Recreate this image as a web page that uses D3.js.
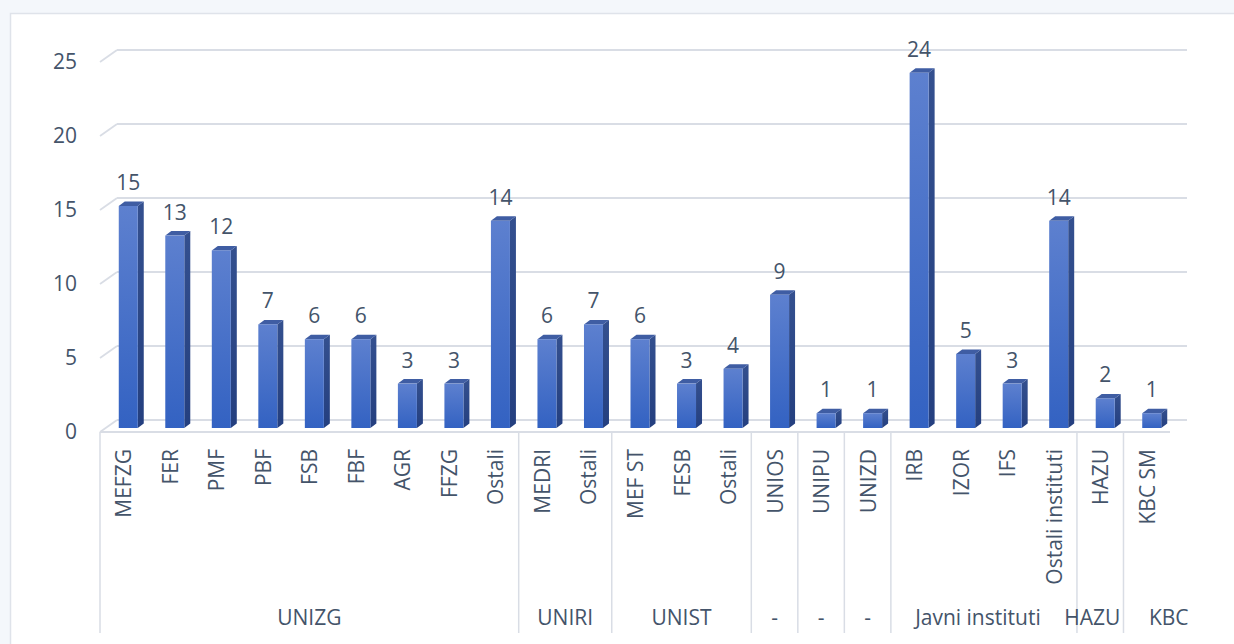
<!DOCTYPE html>
<html>
<head>
<meta charset="utf-8">
<script src="https://cdn.jsdelivr.net/npm/d3@7"></script>
<style>
  body { margin: 0; background: #f4f7fb; }
  svg { display: block; font-family: "Open Sans", sans-serif; }
</style>
</head>
<body>
<div id="chart"></div>
<script>
// data
const categories = ["MEFZG", "FER", "PMF", "PBF", "FSB", "FBF", "AGR", "FFZG", "Ostali",
  "MEDRI", "Ostali", "MEF ST", "FESB", "Ostali", "UNIOS", "UNIPU", "UNIZD",
  "IRB", "IZOR", "IFS", "Ostali instituti", "HAZU", "KBC SM"]
const values = [15, 13, 12, 7, 6, 6, 3, 3, 14, 6, 7, 6, 3, 4, 9, 1, 1, 24, 5, 3, 14, 2, 1]
const groups = ["UNIZG", "UNIRI", "UNIST", "-", "-", "-", "Javni instituti", "HAZU", "KBC"]
const groupSizes = [9, 2, 3, 1, 1, 1, 4, 1, 1]
const yTicks = [0, 5, 10, 15, 20, 25]

const width = 1234
const height = 644
const textColor = "#44546a"
const gridColor = "#d9dde5"
const fontSize = 21

// 3d offsets: back wall and bar depth
const depthX = 17, depthY = -12
const barDX = 6, barDY = -4.5

const svg = d3.select("#chart").append("svg")
  .attr("width", width)
  .attr("height", height)

// white panel
svg.append("rect")
  .attr("x", 10.5).attr("y", 13.5)
  .attr("width", width).attr("height", height)
  .attr("fill", "#ffffff")
  .attr("stroke", "#dfe3ea")
  .attr("stroke-width", 1.5)

const x = d3.scaleBand()
  .domain(d3.range(categories.length))
  .range([100, 1170])

// y at the bar front plane
const yFront = 428
const y = d3.scaleLinear().domain([0, 25]).range([yFront, yFront - 25 * 14.8])
const yBack = v => y(v) - 8          // back wall
const yEdge = v => yBack(v) - depthY // front-left edge

// back wall gridlines + small diagonal ticks on the left
const grid = svg.append("g")
yTicks.forEach(t => {
  grid.append("line")
    .attr("x1", 100 + depthX).attr("x2", 1170 + depthX)
    .attr("y1", yBack(t)).attr("y2", yBack(t))
    .attr("stroke", gridColor).attr("stroke-width", 1.8)
  grid.append("line")
    .attr("x1", 100).attr("x2", 100 + depthX)
    .attr("y1", yEdge(t)).attr("y2", yBack(t))
    .attr("stroke", gridColor).attr("stroke-width", 1.8)
})
// floor front edge
grid.append("line")
  .attr("x1", 100).attr("x2", 1170)
  .attr("y1", yEdge(0)).attr("y2", yEdge(0))
  .attr("stroke", gridColor).attr("stroke-width", 1.8)

// y labels
svg.append("g").selectAll("text")
  .data(yTicks)
  .join("text")
  .attr("x", 77)
  .attr("y", d => yEdge(d))
  .attr("dy", "0.35em")
  .attr("text-anchor", "end")
  .attr("fill", textColor)
  .attr("font-size", fontSize)
  .text(d => d)

// gradients
const defs = svg.append("defs")
const gFront = defs.append("linearGradient").attr("id", "gFront")
  .attr("x1", 0).attr("y1", 0).attr("x2", 0).attr("y2", 1)
gFront.append("stop").attr("offset", "0%").attr("stop-color", "#5d80cf")
gFront.append("stop").attr("offset", "100%").attr("stop-color", "#3362c2")
const gSide = defs.append("linearGradient").attr("id", "gSide")
  .attr("x1", 0).attr("y1", 0).attr("x2", 0).attr("y2", 1)
gSide.append("stop").attr("offset", "0%").attr("stop-color", "#34508f")
gSide.append("stop").attr("offset", "100%").attr("stop-color", "#243f7f")

// bars
const barW = 19
const barOff = 5
const bars = svg.append("g").selectAll("g")
  .data(values)
  .join("g")

const bx = (d, i) => x(i) + x.bandwidth() / 2 + barOff - barW / 2

// side face
bars.append("path")
  .attr("d", (d, i) => {
    const x0 = bx(d, i) + barW, yt = y(d), yb = y(0)
    return `M${x0},${yt} L${x0 + barDX},${yt + barDY} L${x0 + barDX},${yb + barDY} L${x0},${yb} Z`
  })
  .attr("fill", "url(#gSide)")

// top face
bars.append("path")
  .attr("d", (d, i) => {
    const x0 = bx(d, i), yt = y(d)
    return `M${x0},${yt} L${x0 + barDX},${yt + barDY} L${x0 + barW + barDX},${yt + barDY} L${x0 + barW},${yt} Z`
  })
  .attr("fill", "#3f5da3")

// front face
bars.append("rect")
  .attr("x", bx)
  .attr("y", d => y(d))
  .attr("width", barW)
  .attr("height", d => y(0) - y(d))
  .attr("fill", "url(#gFront)")

// value labels
bars.append("text")
  .attr("x", (d, i) => bx(d, i) + barW / 2)
  .attr("y", d => y(d) - 16)
  .attr("text-anchor", "middle")
  .attr("fill", textColor)
  .attr("font-size", fontSize)
  .text(d => d)

// category labels
svg.append("g").selectAll("text")
  .data(categories)
  .join("text")
  .attr("transform", (d, i) => `translate(${x(i) + x.bandwidth() / 2 + 8},449) rotate(-90)`)
  .attr("text-anchor", "end")
  .attr("fill", textColor)
  .attr("font-size", fontSize)
  .text(d => d)

// group separators and labels
const sepTop = yEdge(0)
const sepBottom = 633
// small nudges so neighbouring group labels don't collide
const labelNudge = { 6: -6, 7: -8, 8: 22 }
svg.append("line")
  .attr("x1", 100).attr("x2", 100)
  .attr("y1", sepTop).attr("y2", sepBottom)
  .attr("stroke", gridColor).attr("stroke-width", 1.5)
let start = 0
groups.forEach((g, k) => {
  const end = start + groupSizes[k]
  const x0 = x(start), x1 = x(end - 1) + x.bandwidth()
  if (k < groups.length - 1) {
    svg.append("line")
      .attr("x1", x1).attr("x2", x1)
      .attr("y1", sepTop).attr("y2", sepBottom)
      .attr("stroke", gridColor).attr("stroke-width", 1.5)
  }
  svg.append("text")
    .attr("x", (x0 + x1) / 2 + (labelNudge[k] || 0))
    .attr("y", 625)
    .attr("text-anchor", "middle")
    .attr("fill", textColor)
    .attr("font-size", fontSize)
    .text(g)
  start = end
})
</script>
</body>
</html>
